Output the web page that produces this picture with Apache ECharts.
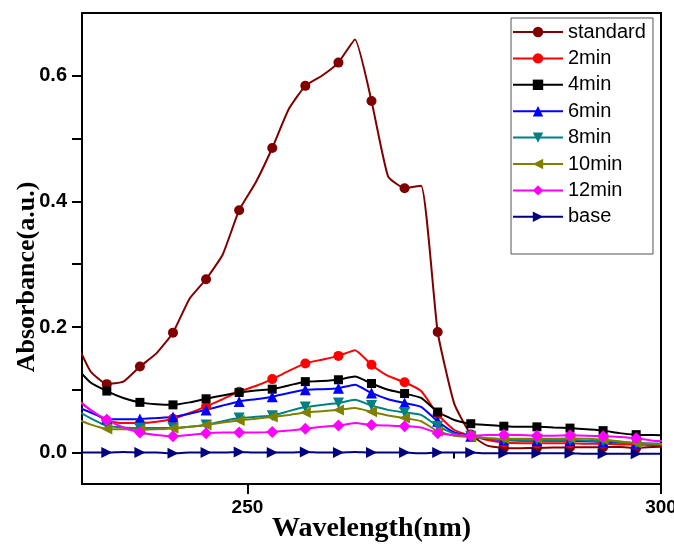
<!DOCTYPE html>
<html>
<head>
<meta charset="utf-8">
<title>Absorbance vs Wavelength</title>
<script src="https://cdn.jsdelivr.net/npm/echarts@6/dist/echarts.min.js"></script>
<style>body{margin:0;background:#fff}</style>
</head>
<body>
<div id="main" style="width:674px;height:546px;"></div>
<script type="text/javascript">
// wavelength grid (nm), every 2 nm
var wavelength = [229, 231, 233, 235, 237, 239, 241, 243, 245, 247, 249, 251, 253, 255, 257, 259, 261, 263, 265,
    267, 269, 271, 273, 275, 277, 279, 281, 283, 285, 287, 289, 291, 293, 295, 297, 299, 301];

var standard = [0.185, 0.13, 0.109, 0.113, 0.137, 0.158, 0.191, 0.245, 0.276, 0.315, 0.386, 0.43, 0.485, 0.547,
    0.584, 0.60, 0.621, 0.658, 0.56, 0.44, 0.421, 0.425, 0.192, 0.078, 0.029, 0.011, 0.0075, 0.007, 0.0075, 0.008,
    0.0085, 0.0085, 0.0085, 0.009, 0.0075, 0.009, 0.01];
var min2 = [0.09, 0.068, 0.051, 0.047, 0.047, 0.049, 0.054, 0.063, 0.0735, 0.085, 0.097, 0.106, 0.117, 0.13, 0.142,
    0.148, 0.154, 0.163, 0.14, 0.122, 0.112, 0.098, 0.061, 0.036, 0.027, 0.02, 0.016, 0.015, 0.015, 0.015, 0.015,
    0.014, 0.014, 0.013, 0.013, 0.012, 0.012];
var min4 = [0.14, 0.112, 0.098, 0.087, 0.080, 0.077, 0.076, 0.08, 0.0857, 0.091, 0.0957, 0.099, 0.101, 0.107, 0.113,
    0.114, 0.116, 0.121, 0.11, 0.1, 0.094, 0.087, 0.0646, 0.052, 0.046, 0.044, 0.042, 0.041, 0.041, 0.040, 0.039,
    0.037, 0.035, 0.031, 0.0286, 0.028, 0.0275];
var min6 = [0.075, 0.064, 0.0535, 0.053, 0.0535, 0.055, 0.0567, 0.062, 0.068, 0.075, 0.0815, 0.085, 0.089, 0.095,
    0.10, 0.101, 0.1026, 0.108, 0.095, 0.085, 0.079, 0.073, 0.05, 0.032, 0.026, 0.022, 0.02, 0.019, 0.019, 0.019,
    0.019, 0.018, 0.017, 0.016, 0.015, 0.014, 0.014];
var min8 = [0.07, 0.055, 0.043, 0.04, 0.039, 0.039, 0.039, 0.041, 0.044, 0.05, 0.055, 0.057, 0.0587, 0.066, 0.0725,
    0.076, 0.079, 0.084, 0.075, 0.068, 0.064, 0.06, 0.042, 0.03, 0.026, 0.023, 0.021, 0.02, 0.02, 0.02, 0.02,
    0.019, 0.018, 0.017, 0.015, 0.014, 0.014];
var min10 = [0.055, 0.045, 0.0376, 0.037, 0.0365, 0.037, 0.0386, 0.041, 0.044, 0.048, 0.051, 0.054, 0.0567, 0.06,
    0.064, 0.066, 0.068, 0.071, 0.065, 0.059, 0.055, 0.05, 0.034, 0.027, 0.025, 0.023, 0.022, 0.022, 0.022, 0.022,
    0.023, 0.022, 0.0206, 0.018, 0.015, 0.014, 0.0138];
var min12 = [0.088, 0.068, 0.052, 0.04, 0.032, 0.028, 0.026, 0.028, 0.031, 0.032, 0.032, 0.032, 0.033, 0.035, 0.038,
    0.041, 0.043, 0.047, 0.044, 0.043, 0.042, 0.04, 0.031, 0.028, 0.027, 0.028, 0.0286, 0.028, 0.027, 0.027, 0.0275,
    0.027, 0.026, 0.025, 0.023, 0.019, 0.018];
var base = [0.001, 0.0, 0.0, 0.001, 0.0, 0.0, -0.001, 0.0, 0.0, 0.0, 0.001, 0.0, 0.0, 0.0, 0.001, 0.0, 0.0, 0.001,
    0.0, 0.0, 0.0, -0.001, 0.0, 0.0, 0.0, -0.001, -0.001, -0.001, -0.001, -0.001, -0.001, -0.002, -0.002, -0.002,
    -0.002, -0.002, -0.002];

var names = ['standard', '2min', '4min', '6min', '8min', '10min', '12min', 'base'];
var values = [standard, min2, min4, min6, min8, min10, min12, base];
var xLabels = [250, 300];
var yLabels = [0, 0.2, 0.4, 0.6];

var colors = ['#800000', '#ff0000', '#000000', '#0000ff', '#008080', '#808000', '#ff00ff', '#000080'];
var symbols = ['circle', 'circle', 'rect', 'triangle', 'triangle', 'triangle', 'diamond', 'triangle'];
var rotates = [0, 0, 0, 0, 180, 90, 0, -90];
var sizes = [10, 10, 9, 11, 11, 11, 12, 11];

var sansBold = 'Liberation Sans, Arial';

// markers every 4 nm from 233 to 297, plain line elsewhere
function toData(vals) {
    var out = [];
    for (var i = 0; i < wavelength.length; i++) {
        var nm = wavelength[i];
        var item = { value: [nm, vals[i]] };
        if (!(nm >= 233 && nm <= 297 && (nm - 233) % 4 === 0)) item.symbol = 'none';
        out.push(item);
    }
    return out;
}

var series = [];
for (var k = 0; k < names.length; k++) {
    series.push({
        name: names[k],
        type: 'line',
        data: toData(values[k]),
        smooth: 0.15,
        showAllSymbol: true,
        symbol: symbols[k],
        symbolSize: sizes[k],
        symbolRotate: rotates[k],
        lineStyle: { color: colors[k], width: 2 },
        itemStyle: { color: colors[k] },
        clip: true
    });
}

var myChart = echarts.init(document.getElementById('main'));
var option = {
    animation: false,
    backgroundColor: '#fff',
    color: colors,
    grid: {
        left: 82, right: 13, top: 13, bottom: 62, show: true, borderColor: '#000', borderWidth: 2,
        containLabel: false, outerBoundsMode: 'none'
    },
    legend: {
        orient: 'vertical',
        left: 512,
        top: 22,
        padding: 0,
        itemWidth: 50,
        itemHeight: 13,
        itemGap: 6.4,
        selectedMode: false,
        data: names,
        textStyle: { fontSize: 20, fontFamily: 'Liberation Sans, Arial', color: '#000' }
    },
    xAxis: [
        {
            type: 'value', min: 230, max: 300, position: 'bottom',
            axisLine: { show: true, onZero: false, lineStyle: { color: '#000', width: 2 } },
            axisTick: { show: true, customValues: xLabels, length: 10, lineStyle: { color: '#000', width: 2 } },
            axisLabel: {
                customValues: xLabels, margin: 14, color: '#000',
                fontWeight: 'bold', fontSize: 19, fontFamily: sansBold
            },
            splitLine: { show: false },
            name: 'Wavelength(nm)', nameLocation: 'middle', nameGap: 31, nameMoveOverlap: false,
            nameTextStyle: { fontSize: 28, fontWeight: 'bold', fontFamily: 'Liberation Serif, Times New Roman', color: '#000' }
        },
        {
            type: 'value', min: 230, max: 300, position: 'bottom',
            axisLine: { show: false },
            axisTick: { show: true, customValues: [275], length: 6, lineStyle: { color: '#000', width: 2 } },
            axisLabel: { show: false },
            splitLine: { show: false }
        }
    ],
    yAxis: {
        type: 'value', min: -0.05, max: 0.7,
        axisLine: { show: true, onZero: false, lineStyle: { color: '#000', width: 2 } },
        axisTick: { show: true, customValues: [0, 0.1, 0.2, 0.3, 0.4, 0.5, 0.6], length: 10, lineStyle: { color: '#000', width: 2 } },
        axisLabel: {
            customValues: yLabels, margin: 15, color: '#000',
            fontWeight: 'bold', fontSize: 20, fontFamily: sansBold,
            formatter: function (v) { return v.toFixed(1); }
        },
        splitLine: { show: false }
    },
    graphic: [
        {
            type: 'text', x: 27, y: 277, rotation: Math.PI / 2,
            style: {
                text: 'Absorbance(a.u.)', fill: '#000', align: 'center', verticalAlign: 'middle',
                font: 'bold 26px "Liberation Serif", "Times New Roman", serif'
            }
        },
        {
            type: 'rect', z: 1,
            shape: { x: 511, y: 18, width: 142, height: 236 },
            style: { fill: 'none', stroke: '#555', lineWidth: 1 }
        }
    ],
    series: series
};
myChart.setOption(option);
</script>
</body>
</html>
